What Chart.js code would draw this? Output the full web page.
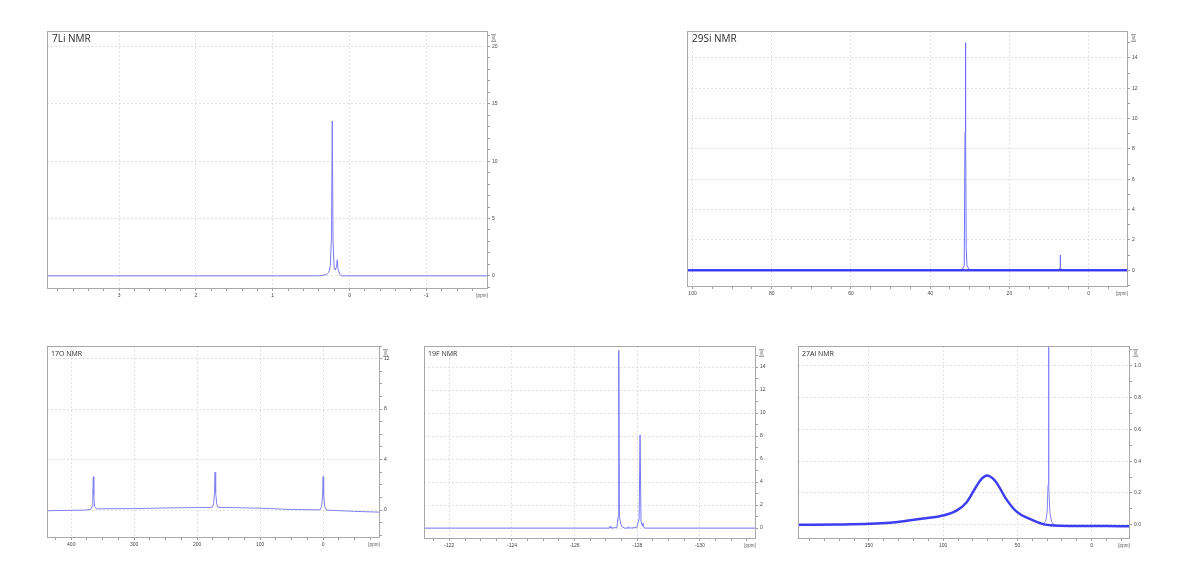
<!DOCTYPE html>
<html>
<head>
<meta charset="utf-8">
<script src="https://cdn.jsdelivr.net/npm/chart.js@4.4.0/dist/chart.umd.min.js"></script>
<style>
  body { margin: 0; background: #fff; }
  #wrap { position: relative; width: 1200px; height: 581px; overflow: hidden; }
  canvas { position: absolute; }
</style>
</head>
<body>
<div id="wrap"></div>
<script>
// 7Li NMR, values (ppm / relative intensity)
const liPpm = [3.94, 0.40, 0.30, 0.27, 0.25, 0.235, 0.225, 0.215, 0.20, 0.185, 0.170, 0.160, 0.150, 0.13, 0.10, -1.79];
const liInt = [0, 0, 0.1, 0.3, 0.9, 3.5, 13.5, 3.0, 0.7, 0.5, 0.8, 1.4, 0.6, 0.15, 0, 0];
const liXTicks = [3, 2, 1, 0, -1];
const liYTicks = [0, 5, 10, 15, 20];

// 29Si NMR
const siPpm = [101.4, 32, 31.4, 31.2, 31.1, 31.0, 30.9, 30.7, 30, 7.4, 7.2, 7.15, 7.1, 6.9, -9.7];
const siInt = [0, 0, 0.3, 9.1, 15.0, 9.1, 1.5, 0.3, 0, 0, 0.2, 1.0, 0.2, 0, 0];
const siNoise = [101.4, -9.7];
const siXTicks = [100, 80, 60, 40, 20, 0];
const siYTicks = [0, 2, 4, 6, 8, 10, 12, 14];

// 17O NMR
const oPpm = [438.5, 380, 369, 367, 365.8, 365, 364.2, 363, 360, 300, 250, 200, 176, 174, 172.5, 171.6, 170.7, 169, 167, 100, 50, 5, 2.5, 0.8, 0, -0.8, -2.5, -5, -50, -88.7];
const oInt = [-0.05, 0.0, 0.05, 0.3, 1.2, 2.65, 1.2, 0.3, 0.1, 0.12, 0.17, 0.2, 0.22, 0.5, 1.4, 3.0, 1.4, 0.5, 0.22, 0.15, 0.05, 0.02, 0.3, 1.2, 2.65, 1.2, 0.3, 0.0, -0.1, -0.16];
const oXTicks = [400, 300, 200, 100, 0];
const oYTicks = [0, 4, 8, 12];

// 19F NMR
const fPpm = [-121.19, -127.1, -127.13, -127.16, -127.35, -127.39, -127.41, -127.43, -127.47, -127.52, -127.6, -127.7, -127.72, -127.74, -127.98, -128.06, -128.09, -128.12, -128.16, -128.18, -128.2, -128.25, -131.76];
const fInt = [0, 0, 0.15, 0, 0.05, 1.0, 15.45, 1.0, 0.4, 0.1, 0, 0, 0.12, 0, 0.05, 0.8, 8.1, 0.6, 0.2, 0.45, 0.1, 0, 0];
const fXTicks = [-122, -124, -126, -128, -130];
const fYTicks = [0, 2, 4, 6, 8, 10, 12, 14];

// 27Al NMR: broad component and sharp line
const alPpm = [197.7, 170, 149.3, 135.8, 124.6, 113.4, 100, 91, 84.3, 77.5, 74, 70.4, 67, 64.1, 57.4, 50.6, 41.7, 32.7, 25, 10, -10, -25.1];
const alInt = [0.0, 0.002, 0.006, 0.013, 0.025, 0.039, 0.058, 0.089, 0.14, 0.244, 0.29, 0.31, 0.295, 0.265, 0.16, 0.083, 0.037, 0.004, -0.005, -0.008, -0.008, -0.009];
const alSharpPpm = [33, 31, 30, 29.4, 29.1, 28.8, 28.2, 27, 25];
const alSharpInt = [0.004, 0.02, 0.08, 0.25, 1.6, 0.25, 0.08, 0.02, -0.005];
const alXTicks = [150, 100, 50, 0];
const alYTicks = [0.0, 0.2, 0.4, 0.6, 0.8, 1.0];

const wrap = document.getElementById('wrap');

function pts(xs, ys) {
    return xs.map((x, i) => ({ x: x, y: ys[i] }));
}

// all minor positions in range, flag the majors
function buildTicks(min, max, majors, step, decimals) {
    const list = [];
    const start = Math.ceil(min / step - 1e-6);
    const end = Math.floor(max / step + 1e-6);
    for (let k = start; k <= end; k++) {
        const v = +(k * step).toFixed(6);
        const isMajor = majors.some(m => Math.abs(m - v) < step / 10);
        list.push({ value: v, isMajor: isMajor, text: isMajor ? v.toFixed(decimals) : '' });
    }
    return list;
}

const framePlugin = {
    id: 'frame',
    afterDraw(chart) {
        const o = chart.options.plugins.frame;
        const ca = chart.chartArea;
        const c = chart.ctx;
        c.save();
        c.strokeStyle = '#a8a8a8';
        c.lineWidth = 1;
        c.strokeRect(Math.round(ca.left) + 0.5, Math.round(ca.top) + 0.5, Math.round(ca.right - ca.left), Math.round(ca.bottom - ca.top));
        c.fillStyle = '#2a2a2a';
        c.textBaseline = 'top';
        c.textAlign = 'left';
        c.font = o.titleSize + 'px "Open Sans", sans-serif';
        c.fillText(o.title, ca.left + o.titleDx, ca.top + o.titleDy);
        c.fillStyle = '#555';
        c.font = '4.5px "Liberation Sans", sans-serif';
        c.textAlign = 'center';
        c.fillText('[ppm]', ca.right - 5, ca.bottom + 6);
        c.translate(ca.right + 6, ca.top + 7);
        c.rotate(Math.PI / 2);
        c.fillText('[rel]', 0, -2);
        c.restore();
    }
};

function makePanel(p) {
    const pad = 2;
    const cv = document.createElement('canvas');
    cv.width = p.w + p.axisW + pad;
    cv.height = p.h + p.axisH + pad;
    cv.style.left = (p.left - pad) + 'px';
    cv.style.top = (p.top - pad) + 'px';
    wrap.appendChild(cv);

    const xt = buildTicks(p.xMin, p.xMax, p.xTicks, p.xStep, p.xDec);
    const yt = buildTicks(p.yMin, p.yMax, p.yTicks, p.yStep, p.yDec);

    const gridCol = ctx => (ctx.tick && ctx.tick.isMajor) ? '#d8d8d8' : 'rgba(0,0,0,0)';
    const tickFont = { size: 5, family: '"Liberation Sans", sans-serif' };

    new Chart(cv.getContext('2d'), {
        type: 'scatter',
        data: { datasets: p.datasets },
        options: {
            responsive: false,
            animation: false,
            events: [],
            layout: { padding: { left: pad, top: pad, right: 0, bottom: 0 } },
            plugins: {
                legend: { display: false },
                tooltip: { enabled: false },
                frame: { title: p.title, titleSize: p.titleSize, titleDx: p.titleDx, titleDy: p.titleDy }
            },
            elements: { point: { radius: 0 }, line: { tension: 0 } },
            scales: {
                x: {
                    type: 'linear', reverse: true, bounds: 'data',
                    min: p.xMin, max: p.xMax,
                    afterBuildTicks: s => { s.ticks = xt.map(t => ({ value: t.value, isMajor: t.isMajor, text: t.text })); },
                    afterFit: s => { s.height = p.axisH; },
                    grid: { color: gridCol, lineWidth: 0.8, tickColor: '#888', tickLength: 3, tickBorderDash: [] },
                    border: { display: true, color: '#a8a8a8', width: 1, dash: [2, 2] },
                    ticks: {
                        autoSkip: false, maxRotation: 0, padding: 2, color: '#444', font: tickFont,
                        callback: (v, i) => xt[i] ? xt[i].text : ''
                    }
                },
                y: {
                    type: 'linear', position: 'right', bounds: 'data',
                    min: p.yMin, max: p.yMax,
                    afterBuildTicks: s => { s.ticks = yt.map(t => ({ value: t.value, isMajor: t.isMajor, text: t.text })); },
                    afterFit: s => { s.width = p.axisW; },
                    grid: { color: gridCol, lineWidth: 0.8, tickColor: '#888', tickLength: 3, tickBorderDash: [] },
                    border: { display: true, color: '#a8a8a8', width: 1, dash: [2, 2] },
                    ticks: {
                        autoSkip: false, padding: 2, color: '#444', font: tickFont,
                        callback: (v, i) => yt[i] ? yt[i].text : ''
                    }
                }
            }
        },
        plugins: [framePlugin]
    });
}

function line(xs, ys, color, width) {
    return { data: pts(xs, ys), showLine: true, borderColor: color, borderWidth: width, pointRadius: 0, fill: false };
}

makePanel({
    title: '7Li NMR', titleSize: 10, titleDx: 5, titleDy: 3,
    left: 47, top: 28, w: 440, h: 260, axisW: 16, axisH: 14,
    xMin: -1.79, xMax: 3.94, xTicks: liXTicks, xStep: 0.2, xDec: 0,
    yMin: -1.06, yMax: 21.35, yTicks: liYTicks, yStep: 1, yDec: 0,
    datasets: [line(liPpm, liInt, '#7a7af6', 1)]
});

makePanel({
    title: '29Si NMR', titleSize: 10, titleDx: 5, titleDy: 3,
    left: 687, top: 28, w: 440, h: 258, axisW: 16, axisH: 14,
    xMin: -9.7, xMax: 101.4, xTicks: siXTicks, xStep: 5, xDec: 0,
    yMin: -1.04, yMax: 15.77, yTicks: siYTicks, yStep: 1, yDec: 0,
    datasets: [
        line(siNoise, [0, 0], 'rgba(40,40,245,0.85)', 2.5),
        line(siPpm, siInt, '#7070ff', 1)
    ]
});

makePanel({
    title: '17O NMR', titleSize: 7, titleDx: 4, titleDy: 4,
    left: 47, top: 343, w: 332, h: 194, axisW: 14, axisH: 13,
    xMin: -88.7, xMax: 438.5, xTicks: oXTicks, xStep: 25, xDec: 0,
    yMin: -2.13, yMax: 13.0, yTicks: oYTicks, yStep: 1, yDec: 0,
    datasets: [line(oPpm, oInt, '#8080f2', 1)]
});

makePanel({
    title: '19F NMR', titleSize: 7, titleDx: 4, titleDy: 4,
    left: 424, top: 343, w: 331, h: 195, axisW: 14, axisH: 13,
    xMin: -131.76, xMax: -121.19, xTicks: fXTicks, xStep: 0.5, xDec: 0,
    yMin: -0.86, yMax: 15.83, yTicks: fYTicks, yStep: 1, yDec: 0,
    datasets: [line(fPpm, fInt, '#7878f6', 1)]
});

makePanel({
    title: '27Al NMR', titleSize: 7, titleDx: 4, titleDy: 4,
    left: 798, top: 343, w: 331, h: 195, axisW: 14, axisH: 13,
    xMin: -25.1, xMax: 197.7, xTicks: alXTicks, xStep: 10, xDec: 0,
    yMin: -0.083, yMax: 1.124, yTicks: alYTicks, yStep: 0.1, yDec: 1,
    datasets: [
        Object.assign(line(alPpm, alInt, 'rgba(40,40,240,0.9)', 2.5), { cubicInterpolationMode: 'monotone' }),
        line(alSharpPpm, alSharpInt, '#8484fa', 1)
    ]
});
</script>
</body>
</html>
